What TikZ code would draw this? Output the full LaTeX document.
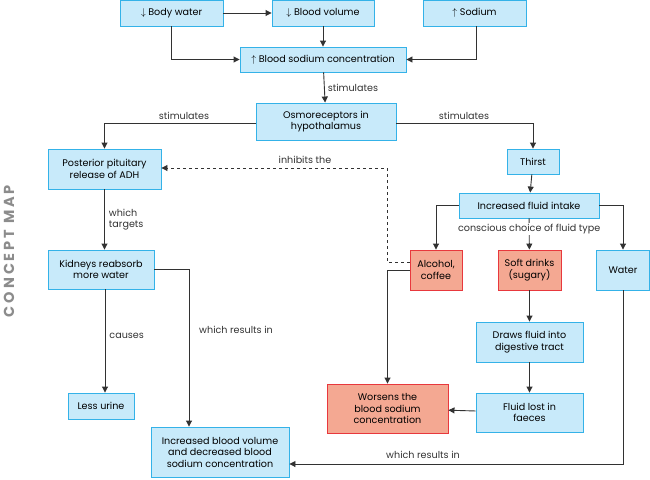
\documentclass[tikz,border=0pt]{standalone}
\usepackage{fontspec}
\setmainfont{Poppins}
\newfontfamily\mapfont[LetterSpace=20]{Poppins}
\usetikzlibrary{arrows.meta}

\definecolor{boxfill}{RGB}{200,234,250}
\definecolor{boxline}{RGB}{52,178,232}
\definecolor{badfill}{RGB}{244,168,146}
\definecolor{badline}{RGB}{232,56,61}
\definecolor{linkcol}{RGB}{50,50,50}
\definecolor{mapgray}{RGB}{140,140,140}

\tikzset{
  box/.style={draw=boxline, fill=boxfill, line width=0.9pt, align=center,
    inner sep=1pt, font=\fontsize{9.6}{11.5}\selectfont},
  badbox/.style={box, draw=badline, fill=badfill},
  link/.style={draw=linkcol, line width=0.9pt, -{Triangle[length=6pt,width=6pt]}},
  linklabel/.style={font=\fontsize{9.6}{11.5}\selectfont, text=linkcol, inner sep=1pt}
}

\begin{document}
\begin{tikzpicture}[x=1pt,y=-1pt]
      \useasboundingbox (0,0) rectangle (650,479);

      % top row
      \node[box, minimum width=103pt, minimum height=26pt] (bodywater) at (171.5,13) {$\downarrow$ Body water};
      \node[box, minimum width=102pt, minimum height=26pt] (bloodvol) at (323,13) {$\downarrow$ Blood volume};
      \node[box, minimum width=103pt, minimum height=26pt] (sodium) at (474.5,13) {$\uparrow$ Sodium};
      \node[box, minimum width=166pt, minimum height=25pt] (bloodna) at (323,59.5) {$\uparrow$ Blood sodium concentration};
      \node[box, minimum width=140pt, minimum height=37pt] (osmo) at (326,121.5) {Osmoreceptors in\\hypothalamus};

      % left branch
      \node[box, minimum width=113pt, minimum height=40pt] (pituitary) at (104.5,169) {Posterior pituitary\\release of ADH};
      \node[box, minimum width=106pt, minimum height=39pt] (kidneys) at (101,269.5) {Kidneys reabsorb\\more water};
      \node[box, minimum width=66pt, minimum height=26pt] (lessurine) at (101,406) {Less urine};
      \node[box, minimum width=138pt, minimum height=50pt] (result) at (220,452) {Increased blood volume\\and decreased blood\\sodium concentration};

      % right branch
      \node[box, minimum width=52pt, minimum height=25pt] (thirst) at (533,161.5) {Thirst};
      \node[box, minimum width=140pt, minimum height=25pt] (intake) at (529,205.5) {Increased fluid intake};
      \node[badbox, minimum width=52pt, minimum height=40pt] (alcohol) at (436,270) {Alcohol,\\coffee};
      \node[badbox, minimum width=63pt, minimum height=40pt] (soft) at (529.5,270) {Soft drinks\\(sugary)};
      \node[box, minimum width=53pt, minimum height=40pt] (water) at (623,270) {Water};
      \node[box, minimum width=107pt, minimum height=40pt] (draws) at (529.5,342) {Draws fluid into\\digestive tract};
      \node[box, minimum width=107pt, minimum height=39pt] (lost) at (529.5,412.5) {Fluid lost in\\faeces};
      \node[badbox, minimum width=121pt, minimum height=49pt] (worsens) at (387.5,408.5) {Worsens the\\blood sodium\\concentration};

      \coordinate (adhbend) at (387,168);
      \coordinate (kidbend) at (189,270);

      % connectors
      \draw[link] (bodywater) -- (bloodvol);
      \draw[link] (bodywater.south) |- (bloodna.west);
      \draw[link] (bloodvol) -- (bloodna);
      \draw[link] ([xshift=2pt]sodium.south) |- (bloodna.east);
      \draw[link] (bloodna) -- node[linklabel, right=2pt] {stimulates} (osmo);
      \draw[link] ([yshift=-1.5pt]osmo.west) -| (pituitary.north);
      \draw[link] ([yshift=-1.5pt]osmo.east) -| (thirst.north);
      \node[linklabel] (stimleft) at (184,116) {stimulates};
      \node[linklabel] (stimright) at (464,116) {stimulates};

      \draw[link] (pituitary) -- node[linklabel, right=3pt, align=left] {which\\targets} (pituitary |- kidneys.north);
      \draw[link] ([xshift=4pt]kidneys.south) -- node[linklabel, right=3pt, pos=0.45] {causes} ([xshift=4pt]kidneys.south |- lessurine.north);
      \draw[link] (kidneys.east) -| (kidbend |- result.north);
      \node[linklabel] (resultsleft) at (236,330) {which results in};

      \draw[link] (thirst) -- (intake);
      \draw[link] (intake.west) -| (alcohol.north);
      \draw[link] (intake.east) -| (water.north);
      \draw[link] (intake) -- node[linklabel, fill=white, pos=0.35] {conscious choice of fluid type} (soft);

      \draw[link, dashed] ([yshift=8pt]alcohol.west) -| (adhbend) -- (adhbend -| pituitary.east);
      \node[linklabel] (inhibits) at (305,160) {inhibits the};
      \draw[link] (alcohol.west) -| (worsens.north);

      \draw[link] (soft) -- (draws);
      \draw[link] (draws) -- (lost);
      \draw[link] (lost) -- (worsens);
      \draw[link] ([xshift=0.5pt]water.south) |- ([yshift=-12pt]result.east);
      \node[linklabel] (resultsright) at (423,455) {which results in};

      \node[rotate=90, text=mapgray, font=\mapfont\bfseries\fontsize{14.5}{16}\selectfont] (conceptmap) at (9,251) {CONCEPT MAP};
\end{tikzpicture}
\end{document}
